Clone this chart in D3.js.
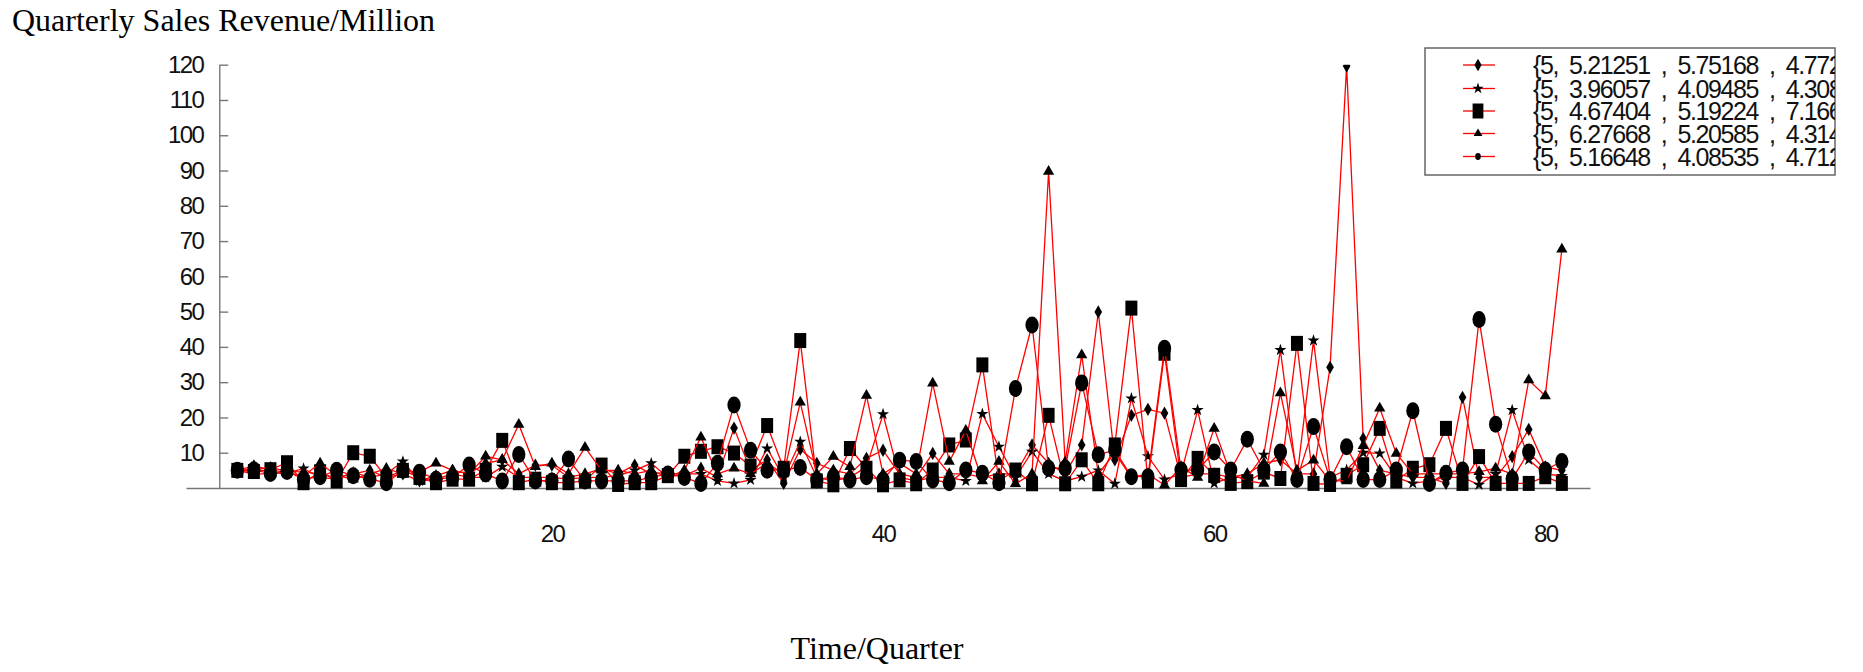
<head>
    <script src="https://d3js.org/d3.v7.min.js"></script>
    <style>
    body { margin: 0; background: #fff; }
    .tick text { font-family: "Liberation Sans", Arial, sans-serif; font-size: 24px; letter-spacing: -1.6px; fill: #111; }
    .axis .domain, .axis line { stroke: #777; stroke-width: 1.4px; }
    .title { font-family: "Liberation Serif", "Times New Roman", serif; font-size: 32px; fill: #000; }
    .legend text { font-family: "Liberation Sans", Arial, sans-serif; font-size: 25px; letter-spacing: -1.4px; fill: #111; white-space: pre; }
    </style>
</head>
<body>
<svg id="chart" width="1863" height="672"></svg>
<script>
// quarters 1..81
const quarters = d3.range(1, 82);

// diamond series
const seriesA = [5, 5.21251, 5.75168, 4.772, 4.5, 4, 3, 4, 5, 3,
    4, 2, 3.5, 5, 4, 7, 8, 4, 6.5, 6.5,
    3, 4, 5.5, 4, 6.5, 4, 4.5, 3.5, 5.6, 3,
    17, 5, 8, 1.3, 11, 7, 5, 4, 8.4, 10.7,
    4, 3, 9.8, 4, 4, 3, 4, 4, 12.2, 7,
    4, 12.2, 49.9, 8, 20.6, 22.3, 21.2, 3, 4, 4,
    3, 4, 7, 8, 4, 4, 34.2, 119.6, 14, 5,
    4, 3, 3, 1.3, 25.7, 3, 3, 8.9, 16.6, 6, 5];
// star series
const seriesB = [5, 3.96057, 4.09485, 4.308, 5.5, 3, 2.5, 4.5, 3, 4,
    7.5, 2, 2.5, 4, 3, 3, 6, 3, 3, 3,
    2.5, 3, 3, 3.5, 5, 7, 3, 4, 4, 2,
    1.3, 2.3, 11.2, 3, 13.1, 3, 2, 3, 6, 20.9,
    3, 2, 3, 3, 2, 21, 11.7, 3, 10.3, 4,
    2, 3.2, 5, 1.2, 25.4, 9, 2.4, 4, 22.1, 1.3,
    3, 3, 9.4, 39.1, 3, 41.8, 3, 5.1, 10, 9.8,
    3, 1.3, 2, 3, 3, 0.9, 4, 22.1, 8, 4, 3.4];
// square series
const seriesC = [5, 4.67404, 5.19224, 7.166, 1.5, 4.6, 2, 10, 9, 3,
    5, 3, 1.5, 2.5, 2.5, 5, 13.5, 1.5, 2.5, 1.5,
    1.5, 2, 6.5, 1, 1.5, 1.5, 3.5, 9, 10.4, 11.7,
    9.9, 6.2, 17.7, 5.6, 41.8, 2, 0.9, 11.2, 5.6, 0.9,
    2.3, 1.2, 5.1, 12.2, 13.6, 34.9, 2, 5.1, 1.2, 20.6,
    1.2, 8, 1.2, 12.2, 51, 2, 38.2, 2.4, 8.4, 3.6,
    1.3, 1.8, 4.5, 2.7, 41, 1.3, 1, 3.6, 6.6, 16.9,
    2, 5.6, 6.6, 16.9, 1.3, 8.9, 1.3, 1.3, 1.3, 3.2, 1.3];
// triangle series
const seriesD = [5, 6.27668, 5.20585, 4.314, 3.5, 7, 3.5, 2.5, 4, 5.5,
    4, 4.5, 7, 5, 4, 9, 8, 18, 6, 7,
    4, 11.5, 5, 5, 4, 5, 3, 5, 14.4, 4,
    5.6, 4, 7, 4, 24.3, 4, 8.9, 6, 26.2, 4,
    7, 4, 29.7, 7.5, 16.3, 2, 7.5, 1.2, 4, 89.7,
    7.4, 37.7, 4, 10, 3, 4, 0.8, 6, 3, 16.9,
    4, 2, 1.3, 26.9, 5, 7.9, 2, 2, 12, 22.6,
    9.8, 4, 4, 4, 4, 4.6, 5.6, 4, 30.6, 26.1, 67.7];
// circle series
const seriesE = [5, 5.16648, 4.08535, 4.712, 2.5, 3.2, 5, 3.5, 2.5, 1.5,
    5, 4.5, 2.5, 3, 6.5, 4, 2, 9.5, 2, 2,
    8.2, 2, 2, 2, 2, 3, 4, 3, 1.3, 7,
    23.5, 10.7, 5, 5.2, 5.8, 2.3, 3.2, 2.3, 3.2, 2.3,
    7.9, 7.5, 2.3, 1.5, 5.1, 4.2, 1.5, 28.2, 46.2, 5.6,
    5.6, 29.8, 9.4, 10.8, 3.2, 3.2, 39.6, 5.1, 5.1, 10.2,
    5.1, 13.8, 5.1, 10.2, 2.4, 17.4, 2.4, 11.7, 2.4, 2.4,
    5.1, 21.9, 1.3, 4.2, 5.1, 47.8, 18.1, 2.6, 10.2, 5.1, 7.5];

const yTicks = [10, 20, 30, 40, 50, 60, 70, 80, 90, 100, 110, 120];
const xTicks = [20, 40, 60, 80];

const allSeries = [seriesA, seriesB, seriesC, seriesD, seriesE];

// marker looks: plot marker and legend marker
const markers = [
    {type: d3.symbolDiamond,  size: 51,  sx: 1,    lsize: 45,  lsx: 1},
    {type: d3.symbolStar,     size: 46,  sx: 1,    lsize: 40,  lsx: 1},
    {type: d3.symbolSquare,   size: 225, sx: 0.8,  lsize: 225, lsx: 0.72},
    {type: d3.symbolTriangle, size: 55,  sx: 1,    lsize: 34,  lsx: 1},
    {type: d3.symbolCircle,   size: 227, sx: 0.78, lsize: 38,  lsx: 0.8}
];

const svg = d3.select('svg#chart');

const xScale = d3.scaleLinear().domain([-2.1, 82.7]).range([186, 1590]);
const yScale = d3.scaleLinear().domain([0, 120]).range([488, 64.7]);
const yAxisX = xScale(0) - 1.5;

// title + axis label
svg.append('text').attr('class', 'title')
   .attr('x', 12).attr('y', 31)
   .text('Quarterly Sales Revenue/Million');

svg.append('text').attr('class', 'title')
   .attr('x', 877).attr('y', 659)
   .attr('text-anchor', 'middle')
   .text('Time/Quarter');

// axes
let leftAxis = d3.axisLeft(yScale).tickValues(yTicks)
                 .tickSizeInner(-9).tickSizeOuter(0).tickPadding(16);
svg.append('g').attr('class', 'y axis')
   .attr('transform', `translate(${yAxisX},0)`)
   .call(leftAxis);

let bottomAxis = d3.axisBottom(xScale).tickValues(xTicks)
                   .tickSize(0).tickPadding(37).tickFormat(d3.format('d'));
svg.append('g').attr('class', 'x axis')
   .attr('transform', `translate(0,${yScale(0)})`)
   .call(bottomAxis);

// plot clip: nothing above 120
svg.append('clipPath').attr('id', 'plotclip')
   .append('rect')
   .attr('x', 0).attr('y', yScale(120))
   .attr('width', 1863).attr('height', 672 - yScale(120));

let chartArea = svg.append('g').attr('clip-path', 'url(#plotclip)');

const line = d3.line()
    .x((d, i) => xScale(quarters[i]))
    .y(d => yScale(d));

allSeries.forEach((vals, s) => {
    chartArea.append('path')
        .attr('d', line(vals))
        .attr('fill', 'none')
        .attr('stroke', '#ff0000')
        .attr('stroke-width', 1.3);

    let sym = d3.symbol().type(markers[s].type).size(markers[s].size);
    chartArea.selectAll(null).data(vals).enter()
        .append('path')
        .attr('d', sym)
        .attr('transform', (d, i) => `translate(${xScale(quarters[i])},${yScale(d)}) scale(${markers[s].sx},1)`)
        .attr('fill', '#000');
});

// legend
const lx = 1425, ly = 48, lw = 410, lh = 127;
let legend = svg.append('g').attr('class', 'legend');
svg.append('clipPath').attr('id', 'legclip')
   .append('rect').attr('x', lx).attr('y', ly).attr('width', lw).attr('height', lh);
legend.append('rect')
   .attr('x', lx).attr('y', ly).attr('width', lw).attr('height', lh)
   .attr('fill', '#fff').attr('stroke', '#666').attr('stroke-width', 1.5);

const rowY = [65, 88.5, 111, 133.5, 156.5];
allSeries.forEach((vals, s) => {
    let y = rowY[s];
    legend.append('line')
        .attr('x1', 1463).attr('x2', 1495).attr('y1', y).attr('y2', y)
        .attr('stroke', '#ff0000').attr('stroke-width', 1.3);
    legend.append('path')
        .attr('d', d3.symbol().type(markers[s].type).size(markers[s].lsize))
        .attr('transform', `translate(1478,${y}) scale(${markers[s].lsx},1)`)
        .attr('fill', '#000');
    legend.append('text')
        .attr('x', 1533).attr('y', y + 9)
        .attr('clip-path', 'url(#legclip)')
        .text('{' + vals[0] + ',  ' + vals.slice(1, 8).join('  ,  '));
});
</script>
</body>
